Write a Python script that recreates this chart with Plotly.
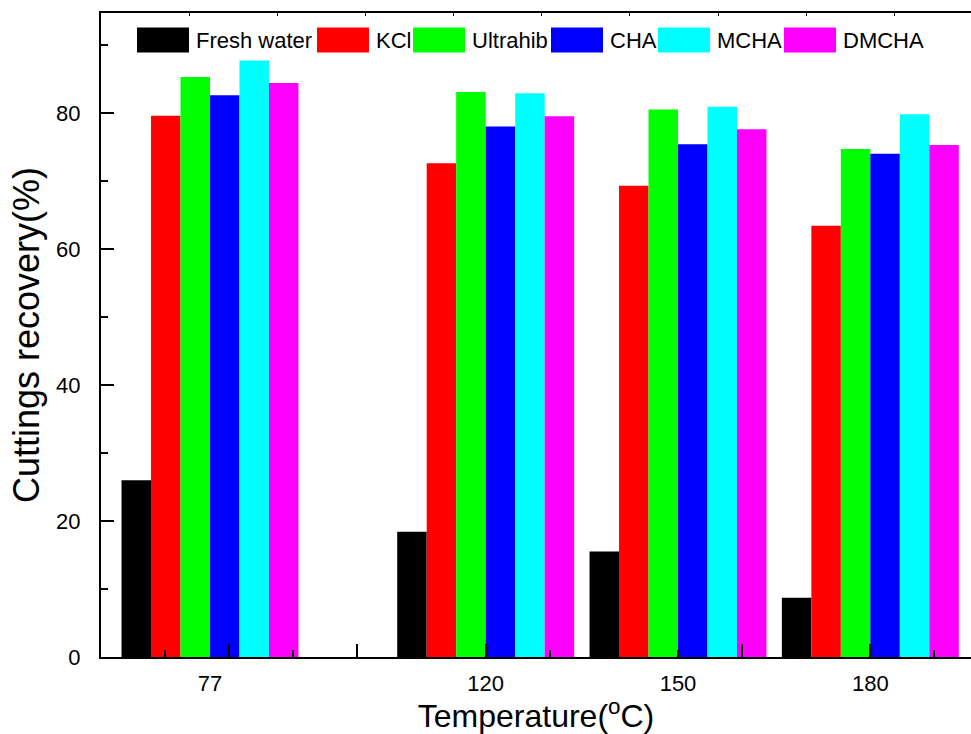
import plotly.graph_objects as go

# Cuttings recovery (%) of shale cuttings in different fluids at several temperatures
temperatures = [77, 120, 150, 180]
temperature_labels = ["77", "120", "150", "180"]

fresh_water = [26.0, 18.4, 15.5, 8.7]
kcl = [79.6, 72.6, 69.3, 63.4]
ultrahib = [85.3, 83.1, 80.5, 74.7]
cha = [82.6, 78.0, 75.4, 74.0]
mcha = [87.7, 82.9, 80.9, 79.8]
dmcha = [84.4, 79.5, 77.6, 75.3]

series_names = ["Fresh water", "KCl", "Ultrahib", "CHA", "MCHA", "DMCHA"]
series_values = [fresh_water, kcl, ultrahib, cha, mcha, dmcha]
series_colors = ["#000000", "#FF0000", "#00FF00", "#0000FF", "#00FFFF", "#FF00FF"]

y_ticks = [0, 20, 40, 60, 80]

FONT = "Liberation Sans, Arial, sans-serif"
W, H = 971, 734
ML, MR, MT, MB = 101, 0, 13, 77
PW, PH = W - ML - MR, H - MT - MB

X_RANGE = [60, 195.7]
Y_RANGE = [0, 94.7]

fig = go.Figure()
for name, vals, col in zip(series_names, series_values, series_colors):
    fig.add_trace(go.Bar(
        x=temperatures, y=vals, name=name,
        marker=dict(color=col, line=dict(width=0)),
        showlegend=False,
    ))

# empty traces so the overlay axes (labels on the bottom, ticks on the top) get drawn
fig.add_trace(go.Scatter(x=[], y=[], xaxis="x2", yaxis="y", showlegend=False))
fig.add_trace(go.Scatter(x=[], y=[], xaxis="x3", yaxis="y", showlegend=False))

fig.update_layout(
    width=W, height=H,
    margin=dict(l=ML, r=MR, t=MT, b=MB, pad=0),
    paper_bgcolor="white", plot_bgcolor="white",
    barmode="group", bargap=0.08, bargroupgap=0,
    font=dict(family=FONT, color="black"),
    showlegend=False,
    # bottom axis: tick marks every 20 with minor marks every 10, drawn over the bars
    xaxis=dict(
        range=X_RANGE, tickmode="linear", tick0=0, dtick=20,
        ticks="inside", ticklen=13, tickwidth=2, tickcolor="black",
        showticklabels=False, showgrid=False, zeroline=False,
        showline=True, linecolor="black", linewidth=2, layer="above traces",
        minor=dict(tickmode="linear", tick0=0, dtick=10, ticks="inside", ticklen=7,
                   tickwidth=2, tickcolor="black", showgrid=False),
    ),
    # temperature labels centred under each bar group
    xaxis2=dict(
        range=X_RANGE, overlaying="x", anchor="y", side="bottom",
        tickmode="array", tickvals=temperatures, ticktext=temperature_labels,
        ticks="", showgrid=False, zeroline=False, showline=False,
        tickfont=dict(size=22, family=FONT), ticklabelstandoff=11,
        title=dict(text="Temperature(<sup>o</sup>C)", font=dict(size=32, family=FONT), standoff=0),
    ),
    xaxis3=dict(
        range=X_RANGE, overlaying="x", anchor="y", side="top",
        tickmode="linear", tick0=60, dtick=13.75, ticks="inside", ticklen=3, tickwidth=1,
        tickcolor="black", showticklabels=False, showgrid=False, zeroline=False,
        showline=True, linecolor="black", linewidth=2,
    ),
    yaxis=dict(
        range=Y_RANGE, tickmode="array", tickvals=y_ticks,
        ticks="inside", ticklen=13, tickwidth=2, tickcolor="black",
        showgrid=False, zeroline=False,
        showline=True, linecolor="black", linewidth=2,
        tickfont=dict(size=22, family=FONT), ticklabelstandoff=14,
        minor=dict(tickmode="linear", tick0=0, dtick=10, ticks="inside", ticklen=7,
                   tickwidth=2, tickcolor="black", showgrid=False),
        title=dict(text="Cuttings recovery(%)", font=dict(size=36, family=FONT), standoff=6),
    ),
)

# Legend row drawn as large swatches with labels
swatch_left_px = [137, 317, 413, 551, 658, 784]
SW_W, SW_H, SW_GAP = 52, 25, 5
LEG_Y_PX = 40


def px_x(px):
    return (px - ML) / PW


def px_y(py):
    return (H - MB - py) / PH


for name, col, left in zip(series_names, series_colors, swatch_left_px):
    fig.add_shape(type="rect", xref="paper", yref="paper",
                  x0=px_x(left), x1=px_x(left + SW_W),
                  y0=px_y(LEG_Y_PX + SW_H / 2), y1=px_y(LEG_Y_PX - SW_H / 2),
                  fillcolor=col, line=dict(width=0), layer="above")
    fig.add_annotation(xref="paper", yref="paper", x=px_x(left + SW_W + SW_GAP), y=px_y(LEG_Y_PX),
                       text=name, showarrow=False, xanchor="left", yanchor="middle",
                       font=dict(size=22, family=FONT, color="black"))

fig.write_html("out.html")
